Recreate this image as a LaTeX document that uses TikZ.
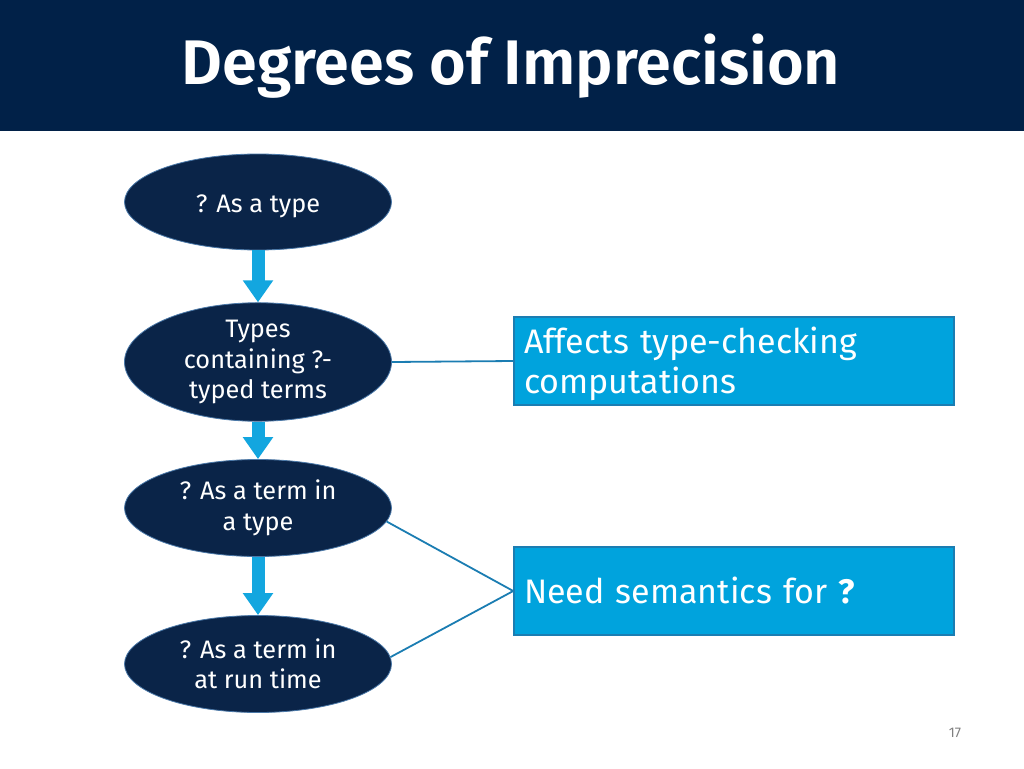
\documentclass[tikz,border=0pt]{standalone}
\usepackage{fontspec}
\setmainfont{Fira Sans}
\newfontfamily\headfont{Fira Sans SemiBold}
\usetikzlibrary{shapes.geometric,arrows.meta}
\definecolor{navy}{HTML}{012148}
\definecolor{ovalfill}{HTML}{0A2448}
\definecolor{ovaledge}{HTML}{4A78A8}
\definecolor{flowblue}{HTML}{13A6DF}
\definecolor{boxfill}{HTML}{00A3DD}
\definecolor{boxedge}{HTML}{1B7DB2}
\tikzset{
  degree/.style={ellipse, fill=ovalfill, draw=ovaledge, line width=0.8pt,
    minimum width=267pt, minimum height=96pt, inner sep=0pt, text=white,
    align=center, font=\fontsize{25.3}{30.5}\selectfont},
  effect/.style={rectangle, fill=boxfill, draw=boxedge, line width=1.5pt,
    minimum width=440pt, minimum height=88pt, inner xsep=10pt, inner ysep=3pt, text=white,
    align=left, text width=420pt, font=\fontsize{34}{40}\selectfont},
  flow/.style={draw=flowblue, line width=13pt, -{Triangle[width=29pt,length=22pt]}},
  link/.style={draw=boxedge, line width=1.8pt}
}
\begin{document}
\begin{tikzpicture}[x=1pt, y=-1pt]
  \useasboundingbox (0,0) rectangle (1024,768);
  \fill[navy] (0,0) rectangle (1024,131);
  \node (title) at (511,66) [text=white, font=\fontsize{63}{70}\headfont] {Degrees of Imprecision};
  % the four degrees
  \node (d1) at (258,202) [degree] {\raisebox{-4pt}[\height][\depth]{? As a type}};
  \node (d2) at (258,360) [degree, minimum height=114pt, yshift=-2pt] {Types\\containing ?-\\typed terms};
  \node (d3) at (258,506) [degree, minimum height=97pt, yshift=-2pt] {? As a term in\\a type};
  \node (d4) at (258,662) [degree, minimum height=97pt, yshift=-2pt] {? As a term in\\at run time};
  \draw[flow] (d1) -- (d2);
  \draw[flow] (d2) -- (d3);
  \draw[flow] (d3) -- (d4);
  % consequences
  \node (typing) at (734,361) [effect] {\rule{0pt}{33pt}Affects type-checking\\computations};
  \node (sem) at (734,591) [effect] {Need semantics for \textbf{?}};
  \draw[link] (d2.east) -- (typing.west);
  \draw[link] (d3.-6) -- (sem.west);
  \draw[link] (d4.3) -- (sem.west);
  \node (page) at (955,733) [text=gray, font=\fontsize{14}{16}\selectfont] {17};
\end{tikzpicture}
\end{document}
